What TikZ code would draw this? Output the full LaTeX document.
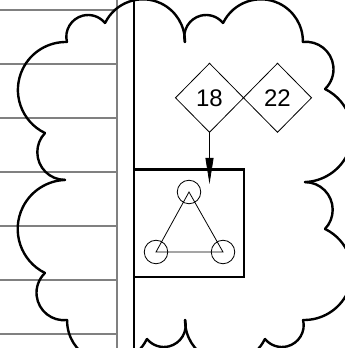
\documentclass[tikz,border=0pt]{standalone}
\usepackage{fontspec}
\setmainfont{Liberation Sans}
\usetikzlibrary{arrows.meta,positioning,shapes.geometric}
\definecolor{LineGrey}{HTML}{808080}
% one puff of the cloud: centre x, centre y, radius, start, end
\newcommand{\puff}[5]{%
  \draw[cloud edge] (#1,#2) ++(#4:#3) arc[start angle=#4,end angle=#5,radius=#3];
}
% left and top puffs, the other half is the same turned round
\newcommand{\halfcloud}{%
  \foreach \cx/\cy/\r/\s/\e in {63.9/55.2/27.4/-83.5/-226.3,66.8/119/49.1/-116.4/-267.9,
      65/195.8/27.7/-90/-223.8,65.8/258.1/47.9/-115.8/-271.4,88.1/311.2/21.8/193.8/39.2,
      142.9/306.7/42/154.2/-0.95,206.1/311.2/21.8/193.8/39.2,260.9/306.7/42/154.2/-0.95}{\puff{\cx}{\cy}{\r}{\s}{\e}}
}

\begin{document}
\begin{tikzpicture}[x=1pt,y=1pt,
    cloud edge/.style={line width=2.4pt,line cap=round},
    rule/.style={LineGrey,line width=1.2pt},
    value/.style={diamond,draw,line width=0.8pt,minimum width=68pt,minimum height=69pt,inner sep=0pt,outer sep=0pt,font=\fontsize{24}{28}\selectfont},
    site/.style={circle,draw,line width=0.8pt,minimum size=23.5pt,inner sep=0pt}]
  \useasboundingbox (0,0) rectangle (345,348);
  \clip (0,0) rectangle (345,348);
  \foreach \y in {14,68,...,338}{\draw[rule] (0,\y) -- (117,\y);}
  \draw[LineGrey,line width=1.5pt] (117,0) -- (117,348);
  \draw[line width=2.2pt] (134,0) -- (134,348);
  \halfcloud
  \begin{scope}[rotate around={180:(185,167)}]
    \halfcloud
  \end{scope}
  \node[value] (d18) at (209.5,250.2) {18};
  \node[value,right=0pt of d18] (d22) {22};
  \node[draw,line width=2.2pt,minimum width=110pt,minimum height=107.7pt] (cluster) at (188.7,124.7) {};
  \node[site] (apex) at (189,156) {};
  \node[site] (lsite) at (156,96) {};
  \node[site] (rsite) at (223,96) {};
  \draw[line width=0.8pt] (apex.center) -- (lsite.center) -- (rsite.center) -- cycle;
  \coordinate (tip) at (209.5,164);
  \draw[line width=0.8pt,-{Triangle[length=26pt,width=8pt]}] (d18.south) -- (tip);
\end{tikzpicture}
\end{document}
